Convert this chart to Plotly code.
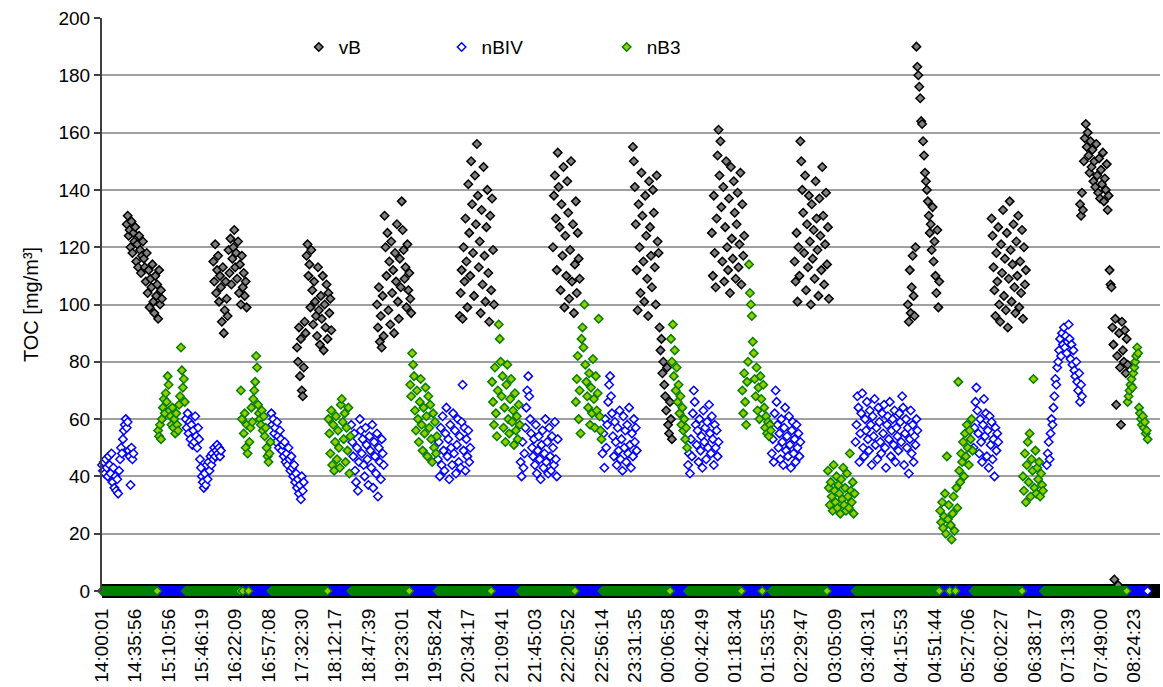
import plotly.graph_objects as go

# ---------------- data ----------------
N_POINTS = 1113          # number of recorded time steps (category axis)
TICK_STEP = 35           # a label every 35 records
tick_labels = ["14:00:01", "14:35:56", "15:10:56", "15:46:19", "16:22:09", "16:57:08",
               "17:32:30", "18:12:17", "18:47:39", "19:23:01", "19:58:24", "20:34:17",
               "21:09:41", "21:45:03", "22:20:52", "22:56:14", "23:31:35", "00:06:58",
               "00:42:49", "01:18:34", "01:53:55", "02:29:47", "03:05:09", "03:40:31",
               "04:15:53", "04:51:44", "05:27:06", "06:02:27", "06:38:17", "07:13:39",
               "07:49:00", "08:24:23"]

# measuring periods: (first record index, measured values)
vB_periods = [
    (26, [128, 131, 124, 126, 120, 129, 118, 125, 122, 127, 115, 121, 113, 124, 119, 111, 117, 122, 116, 113,
          108, 118, 104, 112, 99, 109, 106, 114, 101, 97, 110, 103, 107, 95, 112, 100, 105, 102]),
    (117, [115, 108, 121, 104, 112, 117, 101, 110, 106, 94, 113, 90, 98, 108, 102, 96, 119, 111, 123, 107,
           116, 120, 126, 113, 118, 109, 122, 104, 114, 100, 117, 106, 111, 103, 108, 99]),
    (205, [85, 80, 92, 75, 88, 70, 68, 78, 94, 90, 117, 121, 110, 114, 99, 119, 105, 93, 108, 101,
           96, 89, 113, 98, 86, 103, 95, 110, 84, 100, 92, 107, 88, 104, 97, 102, 91]),
    (289, [100, 92, 106, 87, 96, 85, 103, 89, 131, 120, 110, 125, 98, 115, 93, 122, 104, 112, 90, 118,
           108, 128, 101, 95, 116, 106, 136, 126, 119, 109, 113, 99, 121, 105, 111, 102, 97]),
    (376, [96, 104, 112, 95, 120, 108, 130, 115, 99, 142, 125, 110, 150, 135, 118, 103, 145, 128, 156, 138,
           113, 122, 97, 133, 107, 148, 117, 101, 127, 140, 111, 94, 131, 105, 137, 119, 100]),
    (474, [120, 138, 145, 130, 112, 153, 141, 127, 105, 135, 117, 148, 99, 124, 110, 143, 132, 102, 119, 150,
           108, 128, 97, 114, 136, 104, 125, 116, 109]),
    (558, [155, 150, 141, 128, 112, 98, 135, 120, 104, 146, 131, 115, 101, 138, 124, 109, 96, 143, 127, 117,
           106, 140, 132, 113, 100, 145, 122, 118, 92, 84, 88, 76, 80, 72, 68, 63, 78, 58, 55, 66, 60, 53]),
    (641, [125, 110, 138, 118, 106, 130, 152, 161, 145, 157, 134, 115, 141, 108, 127, 150, 120, 112, 137, 104,
           148, 123, 116, 143, 132, 109, 128, 139, 113, 121, 146, 107, 135, 117, 124]),
    (728, [115, 108, 125, 101, 120, 110, 157, 150, 140, 132, 118, 145, 105, 128, 113, 138, 122, 100, 135, 116,
           126, 109, 143, 130, 119, 103, 137, 124, 112, 148, 131, 107, 121, 139, 114, 127, 102]),
    (847, [100, 94, 112, 97, 106, 117, 103, 96, 120, 190, 183, 180, 176, 172, 164, 163, 157, 152, 146, 143,
           140, 136, 131, 125, 128, 119, 134, 115, 122, 110, 104, 126, 99, 108]),
    (935, [130, 124, 113, 105, 96, 118, 108, 127, 100, 94, 121, 111, 133, 103, 116, 98, 125, 92, 109, 136,
           119, 101, 114, 128, 106, 97, 122, 110, 131, 99, 115, 104, 126, 95, 120, 107, 112]),
    (1028, [135, 131, 139, 133, 150, 158, 163, 155, 160, 152, 146, 157, 148, 154, 143, 150, 141, 156, 145, 139,
            151, 137, 147, 142, 153, 136, 144, 140, 149, 133, 138,
            112, 107, 106, 92, 86, 4, 95, 65, 82, 2, 90, 78, 58, 94, 84, 80, 91, 76, 88, 79]),
]

nBIV_periods = [
    (0, [44, 42, 45, 41, 46, 43, 40, 47, 44, 41, 48, 38, 43, 36, 40, 35, 39, 34, 42, 46,
         50, 48, 53, 56, 58, 60, 57, 59, 49, 47, 37, 50, 46, 48]),
    (88, [60, 57, 62, 55, 59, 53, 58, 51, 56, 52, 61, 54, 50, 57, 53, 46, 43, 40, 38, 36,
          41, 37, 44, 39, 45, 42, 47, 44, 48, 46, 50, 47, 49, 51, 48, 50, 47, 49]),
    (178, [62, 58, 60, 55, 57, 52, 59, 54, 50, 56, 53, 49, 51, 47, 52, 45, 48, 44, 50, 46,
           42, 47, 43, 40, 44, 38, 41, 36, 39, 34, 37, 32, 40, 35, 38]),
    (262, [58, 52, 47, 55, 42, 38, 50, 35, 45, 60, 56, 48, 53, 44, 40, 57, 51, 46, 37, 54,
           49, 43, 58, 36, 52, 47, 41, 55, 33, 50, 45, 39, 53, 48, 44]),
    (353, [46, 52, 40, 57, 44, 61, 49, 42, 55, 64, 47, 53, 39, 58, 50, 44, 62, 48, 56, 41,
           51, 60, 45, 54, 43, 59, 72, 49, 57, 42, 53, 47, 56, 45, 50]),
    (440, [45, 40, 52, 43, 48, 57, 64, 70, 75, 68, 60, 55, 50, 47, 53, 44, 58, 41, 49, 54,
           46, 39, 51, 56, 43, 48, 60, 45, 52, 41, 57, 47, 42, 54, 50, 44, 59, 46, 40, 53]),
    (526, [48, 55, 43, 60, 50, 58, 66, 72, 75, 68, 62, 54, 47, 59, 52, 44, 57, 49, 63, 46,
           53, 42, 61, 50, 56, 45, 58, 48, 64, 51, 43, 55, 47, 60, 52, 57, 49]),
    (616, [44, 48, 41, 53, 47, 62, 70, 66, 58, 51, 56, 45, 60, 49, 54, 43, 63, 52, 57, 46,
           59, 50, 65, 55, 48, 61, 53, 44, 58, 50, 56, 47, 52]),
    (704, [48, 53, 45, 62, 70, 66, 58, 50, 55, 46, 60, 52, 44, 57, 64, 49, 54, 47, 61, 51,
           43, 56, 59, 48, 53, 45, 58, 50, 55, 47, 52]),
    (792, [52, 58, 68, 64, 45, 55, 62, 69, 50, 47, 60, 56, 66, 53, 49, 63, 58, 44, 61, 54,
           67, 51, 57, 46, 64, 59, 52, 48, 62, 55, 65, 50, 43, 58, 61, 53, 66, 47, 56, 60,
           51, 63, 45, 57, 54, 49, 62, 59, 52, 68, 64, 44, 55, 60, 50, 57, 41, 53, 63, 48,
           58, 45, 54, 51, 60, 56]),
    (916, [50, 57, 66, 71, 63, 55, 48, 60, 52, 45, 58, 67, 54, 62, 47, 56, 43, 61, 51, 59,
           46, 53, 40, 57, 49, 55, 52]),
    (993, [44, 48, 52, 46, 55, 60, 58, 64, 68, 74, 72, 78, 80, 84, 88, 82, 90, 86, 92, 85,
           89, 83, 87, 93, 88, 81, 86, 79, 84, 77, 75, 80, 73, 70, 76, 66, 72, 68]),
]

nB3_periods = [
    (59, [56, 54, 58, 53, 60, 64, 67, 62, 69, 66, 75, 72, 63, 61, 58, 64, 57, 60, 55, 62,
          58, 56, 65, 68, 85, 77, 71, 74, 66]),
    (146, [70, 60, 0, 55, 62, 50, 58, 48, 0, 52, 57, 64, 59, 67, 70, 73, 82, 78, 65, 62,
           60, 58, 63, 56, 61, 54, 57, 50, 47, 45, 48, 52]),
    (238, [60, 55, 48, 63, 44, 58, 42, 52, 61, 46, 56, 50, 43, 65, 67, 59, 53, 62, 45, 57,
           49, 64, 41, 54]),
    (324, [72, 68, 83, 79, 75, 63, 56, 70, 60, 52, 66, 74, 58, 49, 64, 55, 71, 61, 47, 68,
           57, 65, 53, 45, 62, 50, 59, 48, 54]),
    (410, [73, 66, 58, 78, 62, 54, 70, 93, 88, 80, 68, 75, 57, 64, 52, 72, 79, 60, 55, 67,
           74, 59, 63, 51, 69, 56, 61, 53, 65, 58]),
    (498, [66, 74, 82, 60, 70, 55, 88, 92, 85, 100, 79, 73, 68, 64, 76, 58, 71, 62, 81, 67,
           57, 75, 63, 69, 95, 61, 56, 53]),
    (598, [88, 80, 93, 75, 84, 70, 78, 66, 72, 62, 68, 58, 64, 56, 60, 53, 57, 50]),
    (673, [70, 62, 76, 66, 58, 73, 80, 114, 104, 100, 96, 87, 83, 74, 68, 78, 63, 71, 60, 75,
           67, 0, 72, 64, 57, 61, 55, 59, 54, 58, 56]),
    (763, [42, 36, 30, 38, 33, 28, 44, 35, 31, 40, 29, 37, 34, 27, 39, 32, 43, 30, 36, 28,
           41, 33, 29, 48, 35, 31, 38, 27, 34]),
    (881, [28, 24, 31, 22, 26, 34, 20, 47, 25, 30, 0, 23, 18, 27, 33, 21, 0, 36, 29, 73,
           42, 38, 48, 45, 52, 40, 55, 47, 58, 50, 44, 56, 53, 60, 49]),
    (968, [40, 35, 48, 31, 44, 52, 38, 55, 33, 46, 42, 74, 36, 49, 34, 43, 39, 45, 33, 41,
           37, 35]),
    (1078, [66, 68, 70, 72, 74, 71, 76, 78, 80, 82, 85, 83, 64, 62, 60, 58, 61, 57, 59, 55,
            56, 53]),
]

# the nBIV / nB3 channels log 0 while not measured, until this record
LAST_LOGGED = 1099


def build(periods, idle_value, last_logged):
    vals = [None] * N_POINTS
    for i in range(last_logged + 1):
        vals[i] = idle_value
    for start, seg in periods:
        for k, v in enumerate(seg):
            vals[start + k] = v
    return vals


x_idx = list(range(N_POINTS))
vB = build(vB_periods, None, -1)
nBIV = build(nBIV_periods, 0, LAST_LOGGED)
nB3 = build(nB3_periods, 0, LAST_LOGGED)

FONT = "Liberation Sans, Arial, sans-serif"
MS = 6.5

fig = go.Figure()
fig.add_trace(go.Scatter(
    x=x_idx, y=vB, mode="markers", name="vB", legend="legend", cliponaxis=False,
    marker=dict(symbol="diamond", size=MS, color="#808080", line=dict(color="#000000", width=1.5))))
fig.add_trace(go.Scatter(
    x=x_idx, y=nBIV, mode="markers", name="nBIV", legend="legend2", cliponaxis=False,
    marker=dict(symbol="diamond", size=MS, color="#ffffff", line=dict(color="#0000ff", width=1.5))))
fig.add_trace(go.Scatter(
    x=x_idx, y=nB3, mode="markers", name="nB3", legend="legend3", cliponaxis=False,
    marker=dict(symbol="diamond", size=MS, color="#99cc00", line=dict(color="#008000", width=1.5))))

leg_common = dict(orientation="h", yanchor="middle", xanchor="left", y=0.949,
                  bgcolor="rgba(0,0,0,0)", font=dict(family=FONT, size=19, color="#000000"))

fig.update_layout(
    width=1163, height=687,
    margin=dict(l=102, r=3, t=18, b=96),
    paper_bgcolor="#ffffff", plot_bgcolor="#ffffff",
    font=dict(family=FONT, size=19, color="#000000"),
    showlegend=True,
    legend=dict(leg_common, x=0.186),
    legend2=dict(leg_common, x=0.321),
    legend3=dict(leg_common, x=0.477),
    xaxis=dict(
        range=[0, N_POINTS - 1],
        tickmode="array",
        tickvals=[i * TICK_STEP for i in range(len(tick_labels))],
        ticktext=tick_labels,
        tickangle=-90,
        showgrid=False, zeroline=False, showline=False,
        ticks="", ticklabelstandoff=13,
        tickfont=dict(family=FONT, size=19, color="#000000"),
    ),
    yaxis=dict(
        range=[0, 200], dtick=20, tick0=0,
        showgrid=True, gridcolor="#a0a0a0", gridwidth=1.5,
        zeroline=True, zerolinecolor="#000000", zerolinewidth=14,
        showline=True, linecolor="#404040", linewidth=2,
        ticks="outside", ticklen=6, tickwidth=1.5, tickcolor="#404040",
        tickfont=dict(family=FONT, size=19, color="#000000"),
        title=dict(text="TOC [mg/m³]", font=dict(family=FONT, size=20, color="#000000"), standoff=14),
    ),
)

fig.write_html("out.html")
